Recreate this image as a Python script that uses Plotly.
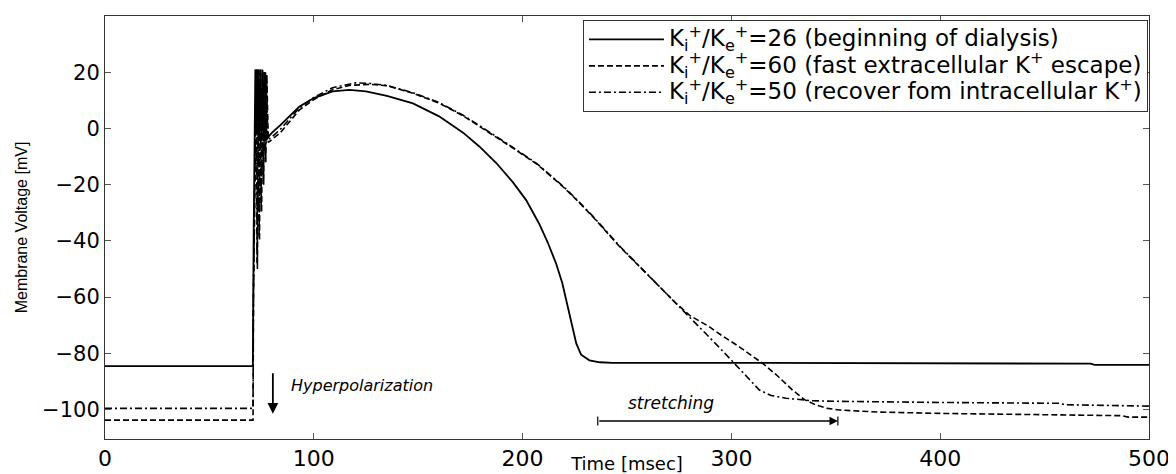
import plotly.graph_objects as go

# ---------------- data ----------------
t_k26 = [0, 70.8, 71.2, 71.6, 72.0, 72.6, 73.2, 73.8, 74.4, 75.0, 75.6, 76.2, 76.8, 77.4, 78.2,
         80, 84, 93, 100, 109, 117, 125, 135, 147.5, 160, 171.5, 179.4, 187.4, 195.4, 201.7,
         208, 212, 216, 219, 221, 223.5, 225.7, 228, 232, 237, 243, 300, 400, 472, 474, 500]
v_k26 = [-84.6, -84.6, -37, -16, 21, -2, 21, -3, 21, -4, 20, -4, 20, -4, -3,
         -1.5, 1.2, 7.7, 10.8, 13.2, 13.7, 13.2, 11.6, 8.9, 4.3, -1.5, -6.5, -12.3, -19.2, -25.5,
         -34, -40.5, -48, -55, -61.5, -70, -76.5, -80.5, -82.5, -83.2, -83.4, -83.4, -83.6, -83.7, -84.1, -84.1]

t_k60 = [0, 70.9, 71.1, 72.6, 73.0, 73.5, 74.0, 74.5, 75.0, 75.5, 76.0, 76.5, 77.0, 77.5, 78.2,
         80, 84, 93, 100, 109, 117, 127, 135, 147.5, 160, 171.5, 180, 187, 195.4, 207, 219,
         225, 233.6, 246.4, 257, 265.6, 273.5, 280, 289.5, 296, 303.8, 315, 322, 329.3, 335,
         340.4, 346, 351.7, 370, 400, 450, 487, 490, 500]
v_k60 = [-103.8, -103.8, -60, 21, -50, 21, -40, 21, -30, 21, -20, 20, -12, 19, -5,
         -4, -1.5, 6.5, 10.3, 13.8, 15.3, 15.7, 15.2, 12.5, 9.0, 4.5, 0.5, -2.8, -7.0, -12.8, -20.5,
         -24.8, -31.4, -42, -50, -56.3, -62.2, -66.5, -70.6, -74, -77.7, -83.6, -88, -93.1, -96.5,
         -98.4, -99.6, -100.2, -100.9, -101.4, -102, -102.2, -102.7, -102.7]

t_k50 = [0, 70.9, 71.1, 72.4, 72.8, 73.3, 73.8, 74.3, 74.8, 75.3, 75.8, 76.3, 76.8, 77.3, 78.0,
         80, 84, 93, 100, 109, 120, 127, 135, 147.5, 160, 171.5, 180, 187, 195.4, 207, 219,
         225, 233.6, 246.4, 257, 265.6, 273.5, 279, 284.7, 293, 302.2, 308, 313.4, 319, 326.1,
         338.9, 351.7, 400, 457, 460, 490, 500]
v_k50 = [-99.6, -99.6, -58, 21, -48, 21, -38, 21, -28, 21, -18, 20, -10, 19, -4,
         -3, -0.3, 7.2, 11, 14.5, 16.2, 16, 15.3, 12.7, 9.2, 4.7, 0.7, -2.6, -6.8, -12.6, -20.3,
         -24.6, -31.2, -41.8, -49.8, -56.2, -62.2, -66.5, -70.6, -77, -84.2, -89, -93.1, -95, -96,
         -96.9, -97.1, -97.5, -97.8, -98.3, -98.5, -98.8]

series_labels = [
    "K<sub>i</sub><sup>+</sup>/K<sub>e</sub><sup>+</sup>=26 (beginning of dialysis)",
    "K<sub>i</sub><sup>+</sup>/K<sub>e</sub><sup>+</sup>=60 (fast extracellular K<sup>+</sup> escape)",
    "K<sub>i</sub><sup>+</sup>/K<sub>e</sub><sup>+</sup>=50 (recover fom intracellular K<sup>+</sup>)",
]

x_ticks = [0, 100, 200, 300, 400, 500]
y_ticks = [-100, -80, -60, -40, -20, 0, 20]
x_range = [0, 500]
y_range = [-110.5, 40]

# annotation anchors (data coordinates)
hyper_arrow = dict(x=80.4, y_from=-86.6, y_to=-101.5)
hyper_text = dict(x=88, y=-91.5)
stretch_arrow = dict(x_from=236, x_to=351, y=-104.1)
stretch_text = dict(x=271, y=-97.8)

FONT = "DejaVu Sans, Verdana, sans-serif"
FONT_Y = "Liberation Sans, Arial, sans-serif"
LEGEND_TEXT_PX = 23


def legend_name(label):
    return "<span style='font-size:%dpx'>%s</span>" % (LEGEND_TEXT_PX, label)


fig = go.Figure()
fig.add_trace(go.Scatter(x=t_k26, y=v_k26, mode="lines", name=legend_name(series_labels[0]),
                         line=dict(color="black", width=1.8, dash="solid")))
fig.add_trace(go.Scatter(x=t_k60, y=v_k60, mode="lines", name=legend_name(series_labels[1]),
                         line=dict(color="black", width=1.6, dash="6px,3px")))
fig.add_trace(go.Scatter(x=t_k50, y=v_k50, mode="lines", name=legend_name(series_labels[2]),
                         line=dict(color="black", width=1.6, dash="7px,3px,2px,3px")))

# Hyperpolarization arrow + label
fig.add_annotation(x=hyper_arrow["x"], y=hyper_arrow["y_to"], ax=hyper_arrow["x"], ay=hyper_arrow["y_from"],
                   xref="x", yref="y", axref="x", ayref="y", text="", showarrow=True,
                   arrowhead=2, arrowsize=1.2, arrowwidth=1.8, arrowcolor="black")
fig.add_annotation(x=hyper_text["x"], y=hyper_text["y"], xref="x", yref="y", text="<i>Hyperpolarization</i>",
                   showarrow=False, xanchor="left", yanchor="middle",
                   font=dict(family=FONT, size=16, color="black"))

# stretching arrow + label
fig.add_annotation(x=stretch_arrow["x_to"], y=stretch_arrow["y"], ax=stretch_arrow["x_from"], ay=stretch_arrow["y"],
                   xref="x", yref="y", axref="x", ayref="y", text="", showarrow=True,
                   arrowhead=2, arrowsize=1.2, arrowwidth=1.4, arrowcolor="black")
for xe in (stretch_arrow["x_from"], stretch_arrow["x_to"]):
    fig.add_shape(type="line", xref="x", yref="y", x0=xe, x1=xe,
                  y0=stretch_arrow["y"] - 1.6, y1=stretch_arrow["y"] + 1.6,
                  line=dict(color="black", width=1.2))
fig.add_annotation(x=stretch_text["x"], y=stretch_text["y"], xref="x", yref="y", text="<i>stretching</i>",
                   showarrow=False, xanchor="center", yanchor="middle",
                   font=dict(family=FONT, size=17, color="black"))

axis_common = dict(showgrid=False, zeroline=False, showline=True, linecolor="#333",
                   linewidth=1, mirror="ticks", ticks="inside", ticklen=6, tickcolor="#555",
                   automargin=False)

# the page body has an 8px default margin, so the figure is made 8px smaller
fig.update_layout(
    width=1168, height=466,
    margin=dict(l=97, r=27, t=8, b=35),
    paper_bgcolor="white", plot_bgcolor="white",
    font=dict(family=FONT, color="black"),
    showlegend=True,
    legend=dict(x=0.999, y=0.99, xanchor="right", yanchor="top",
                bordercolor="#333", borderwidth=1, bgcolor="white",
                font=dict(family=FONT, size=18, color="black"),
                itemwidth=75, tracegroupgap=0),
    xaxis=dict(range=x_range, tickvals=x_ticks, tickfont=dict(size=22),
               title=dict(text="Time [msec]", font=dict(size=18), standoff=0), **axis_common),
    yaxis=dict(range=y_range, tickvals=y_ticks, tickfont=dict(size=21),
               title=dict(text="Membrane Voltage [mV]", font=dict(family=FONT_Y, size=16), standoff=10),
               **axis_common),
)

fig.write_html("out.html")
